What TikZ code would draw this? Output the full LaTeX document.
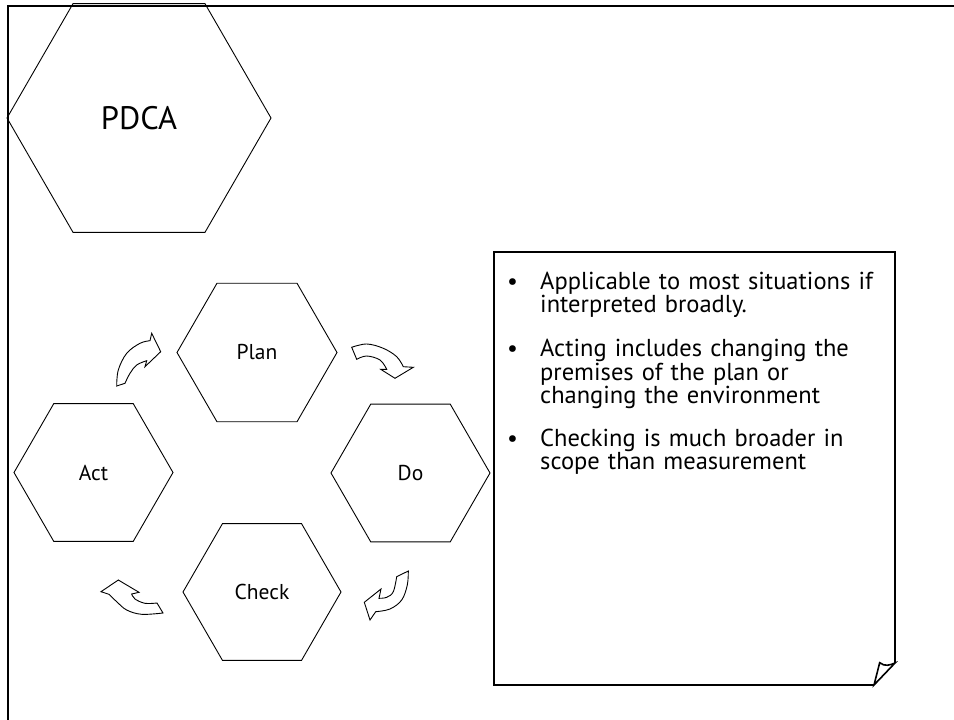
\documentclass[tikz,border=0pt]{standalone}
\usepackage{fontspec}
\setmainfont{PT Sans}
\usetikzlibrary{shapes.geometric}

\tikzset{
  hexbox/.style={draw=black, line width=0.9pt, regular polygon, regular polygon sides=6,
                 inner sep=0pt, font=\fontsize{21.5}{24}\selectfont},
  bigtitle/.style={hexbox, font=\fontsize{32.5}{36}\selectfont},
  turnarrow/.style={draw=black, line width=0.9pt, fill=white, line join=miter},
  notebox/.style={draw=black, line width=2pt, line join=miter},
  bulletdot/.style={anchor=base west, inner sep=0pt, font=\fontsize{24}{22}\selectfont},
  bullettext/.style={anchor=base west, inner sep=0pt, text width=345pt, align=left,
                     font=\fontsize{24.5}{22}\selectfont},
}

\begin{document}
\begin{tikzpicture}[x=1pt, y=-1pt]
\useasboundingbox (0,0) rectangle (954,720);

% open page frame along the top and left edges
\draw[line width=2.6pt] (954,5.8) -- (8,5.8) -- (8,720);

% title hexagon
\node[bigtitle, minimum size=264pt] (pdca) at (139,118) {PDCA};

% the four stages of the cycle
\node[hexbox, minimum size=160pt] (plan)  at (257,352.5) {Plan};
\node[hexbox, minimum size=159pt] (do)    at (410.5,473) {Do};
\node[hexbox, minimum size=158pt] (check) at (262,592)   {Check};
\node[hexbox, minimum size=159pt] (act)   at (93.5,472.5) {Act};

% curved block arrows between the stages
% Act -> Plan
\draw[turnarrow] (116.7,386)
  -- plot[smooth, tension=0.6] coordinates {(116.7,386) (118.3,370) (126.7,353.3) (140,343.3) (150,340.7)}
  -- (151.7,333.3) -- (160.7,351.7) -- (145,366.7) -- (146.7,360.7)
  -- plot[smooth, tension=0.6] coordinates {(146.7,360.7) (136.7,365) (130,373.3) (125,383.3)}
  -- cycle;
% Plan -> Do
\draw[turnarrow] (351.7,347.3)
  -- plot[smooth, tension=0.6] coordinates {(351.7,347.3) (366.7,344) (383.3,348.3) (396.7,356.7) (403.3,366.7)}
  -- (413.3,367.3) -- (395,378.3) -- (380.7,369.3) -- (386.7,369.3)
  -- plot[smooth, tension=0.6] coordinates {(386.7,369.3) (380,360) (366.7,356) (356.7,359.3)}
  -- cycle;
% Do -> Check
\draw[turnarrow] (408.3,571)
  -- plot[smooth, tension=0.6] coordinates {(408.3,571) (407.3,585) (401.7,600) (390,609) (375.7,611.7)}
  -- (370,620) -- (364.3,602.3) -- (381,589) -- (379,598.3)
  -- plot[smooth, tension=0.6] coordinates {(379,598.3) (386.7,597.3) (393.3,591.7) (396.7,576.7)}
  -- cycle;
% Check -> Act
\draw[turnarrow] (163,613)
  -- plot[smooth, tension=0.6] coordinates {(163,613) (141.7,614.3) (126.7,610) (116.7,601.7) (109,594.3)}
  -- (101,591.7) -- (118.3,580) -- (139,592.3) -- (131.7,594)
  -- plot[smooth, tension=0.6] coordinates {(131.7,594) (135,599) (145,603.3) (157,603)}
  -- cycle;

% note sheet with a curled lower right corner
\coordinate (nw) at (494,252);
\coordinate (ne) at (895,252);
\coordinate (curlright) at (895,663);
\coordinate (curlbottom) at (874,685);
\coordinate (sw) at (494,685);
\draw[notebox] (curlbottom) -- (sw) -- (nw) -- (ne) -- (curlright);
\draw[line width=1.6pt, line join=miter] (curlbottom) -- (879.7,662.7)
  .. controls (885,667) and (890,665) .. (curlright) -- cycle;

% bullet list
\node[bulletdot] (b1) at (507,289) {•};
\node[bullettext] (t1) at (540,289) {Applicable to most situations if\\interpreted broadly.};
\node[bulletdot] (b2) at (507,356.5) {•};
\node[bullettext] (t2) at (540,356.5) {Acting includes changing the\\premises of the plan or\\changing the environment};
\node[bulletdot] (b3) at (507,446) {•};
\node[bullettext] (t3) at (540,446) {Checking is much broader in\\scope than measurement};
\end{tikzpicture}
\end{document}
